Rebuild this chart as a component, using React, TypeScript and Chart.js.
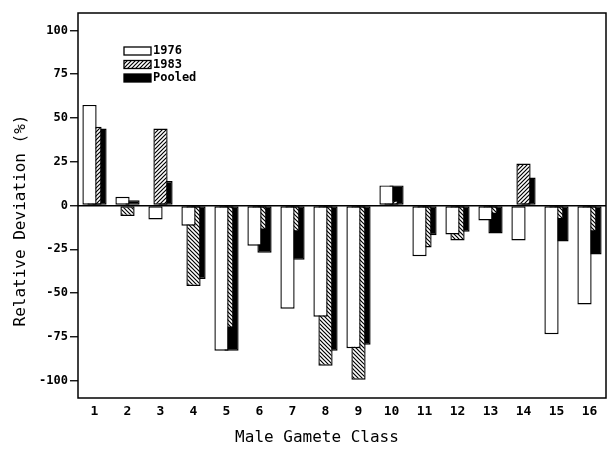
import React, { useEffect, useRef } from 'react';
import { Chart, registerables } from 'chart.js';

Chart.register(...registerables);

const classes = ['1', '2', '3', '4', '5', '6', '7', '8', '9', '10', '11', '12', '13', '14', '15', '16'];
const dev1976 = [57.5, 5, -8, -11.5, -83, -23, -59, -63.5, -81.5, 11.5, -29, -16.5, -8.5, -20, -73.5, -56.5];
const dev1983 = [45, -6, 44, -46, -70, -14, -15, -91.5, -99.5, 3, -24, -20, -5, 24, -8, -15];
const devPooled = [44, 3, 14, -42, -83, -27, -31, -83, -79.5, 11.5, -17, -15, -16, 16, -20.5, -28];
const yTickValues = [-100, -75, -50, -25, 0, 25, 50, 75, 100];
const seriesNames = ['1976', '1983', 'Pooled'];
const xTitle = 'Male Gamete Class';
const yTitle = 'Relative Deviation (%)';

const FONT = '"DejaVu Sans Mono", monospace';

function makeHatch(dir: number): CanvasPattern | string {
  const s = 4;
  const c = document.createElement('canvas');
  c.width = s;
  c.height = s;
  const g = c.getContext('2d');
  if (!g) return '#888';
  g.fillStyle = '#fff';
  g.fillRect(0, 0, s, s);
  g.strokeStyle = '#000';
  g.lineWidth = 1.2;
  g.beginPath();
  if (dir > 0) {
    g.moveTo(0, s); g.lineTo(s, 0);
    g.moveTo(-1, 1); g.lineTo(1, -1);
    g.moveTo(s - 1, s + 1); g.lineTo(s + 1, s - 1);
  } else {
    g.moveTo(0, 0); g.lineTo(s, s);
    g.moveTo(s - 1, -1); g.lineTo(s + 1, 1);
    g.moveTo(-1, s - 1); g.lineTo(1, s + 1);
  }
  g.stroke();
  return g.createPattern(c, 'repeat') || '#888';
}

export default function App() {
  const ref = useRef<HTMLCanvasElement | null>(null);

  useEffect(() => {
    if (!ref.current) return;
    const hatchUp = makeHatch(1);
    const hatchDown = makeHatch(-1);

    const decorPlugin = {
      id: 'decor',
      afterDraw(chart: any) {
        const { ctx, chartArea } = chart;
        const { left, right, top, bottom } = chartArea;
        ctx.save();
        ctx.strokeStyle = '#000';
        ctx.lineWidth = 1.5;
        ctx.strokeRect(left, top, right - left, bottom - top);

        const fills = ['#fff', hatchUp, '#000'];
        const lx = left + 46;
        let ly = top + 34;
        ctx.font = `bold 12px ${FONT}`;
        ctx.textBaseline = 'middle';
        ctx.textAlign = 'left';
        seriesNames.forEach((name, i) => {
          ctx.fillStyle = fills[i];
          ctx.fillRect(lx, ly, 27, 8);
          ctx.lineWidth = 1.3;
          ctx.strokeStyle = '#000';
          ctx.strokeRect(lx, ly, 27, 8);
          ctx.fillStyle = '#000';
          ctx.fillText(name, lx + 29, ly + 4);
          ly += 13.5;
        });

        ctx.font = `16px ${FONT}`;
        ctx.fillStyle = '#000';
        ctx.textAlign = 'center';
        ctx.textBaseline = 'middle';
        ctx.fillText(xTitle, (left + right) / 2 - 25, 438);
        ctx.translate(20.5, (top + bottom) / 2 + 15);
        ctx.rotate(-Math.PI / 2);
        ctx.fillText(yTitle, 0, 0);
        ctx.restore();
      },
    };

    const common = {
      borderColor: '#000',
      borderWidth: 1.4,
      borderSkipped: false,
      categoryPercentage: 0.454,
      barPercentage: 2.85,
    };

    const chart = new Chart(ref.current, {
      type: 'bar',
      data: {
        labels: classes,
        datasets: [
          { ...common, label: seriesNames[0], data: dev1976, backgroundColor: '#fff' },
          {
            ...common,
            label: seriesNames[1],
            data: dev1983,
            backgroundColor: (c: any) => ((c.raw ?? 0) >= 0 ? hatchUp : hatchDown),
          },
          { ...common, label: seriesNames[2], data: devPooled, backgroundColor: '#000' },
        ],
      },
      options: {
        animation: false,
        responsive: false,
        maintainAspectRatio: false,
        layout: { padding: { top: 13, right: 3, left: 0, bottom: 0 } },
        plugins: {
          legend: { display: false },
          tooltip: { enabled: false },
          title: { display: false },
        },
        scales: {
          x: {
            type: 'category',
            grid: { display: false, drawTicks: false },
            border: { display: false },
            ticks: {
              color: '#000',
              padding: 6,
              maxRotation: 0,
              autoSkip: false,
              font: { family: FONT, size: 13, weight: 'bold' },
            },
            afterFit: (s: any) => { s.height = 52; },
          },
          y: {
            type: 'linear',
            min: -110,
            max: 110,
            afterBuildTicks: (s: any) => { s.ticks = yTickValues.map((v) => ({ value: v })); },
            grid: {
              display: true,
              drawTicks: true,
              tickLength: 8,
              tickColor: '#000',
              tickWidth: 1.3,
              color: (c: any) => (c.tick && c.tick.value === 0 ? '#000' : 'rgba(0,0,0,0)'),
              lineWidth: 1.5,
            },
            border: { display: false },
            ticks: {
              color: '#000',
              padding: 2,
              font: { family: FONT, size: 12, weight: 'bold' },
            },
            afterFit: (s: any) => { s.width = 78; },
          },
        },
      },
      plugins: [decorPlugin],
    } as any);

    return () => chart.destroy();
  }, []);

  return (
    <div style={{ position: 'absolute', left: 0, top: 0, width: 609, height: 450 }}>
      <canvas ref={ref} width={609} height={450} style={{ width: 609, height: 450 }} />
    </div>
  );
}
